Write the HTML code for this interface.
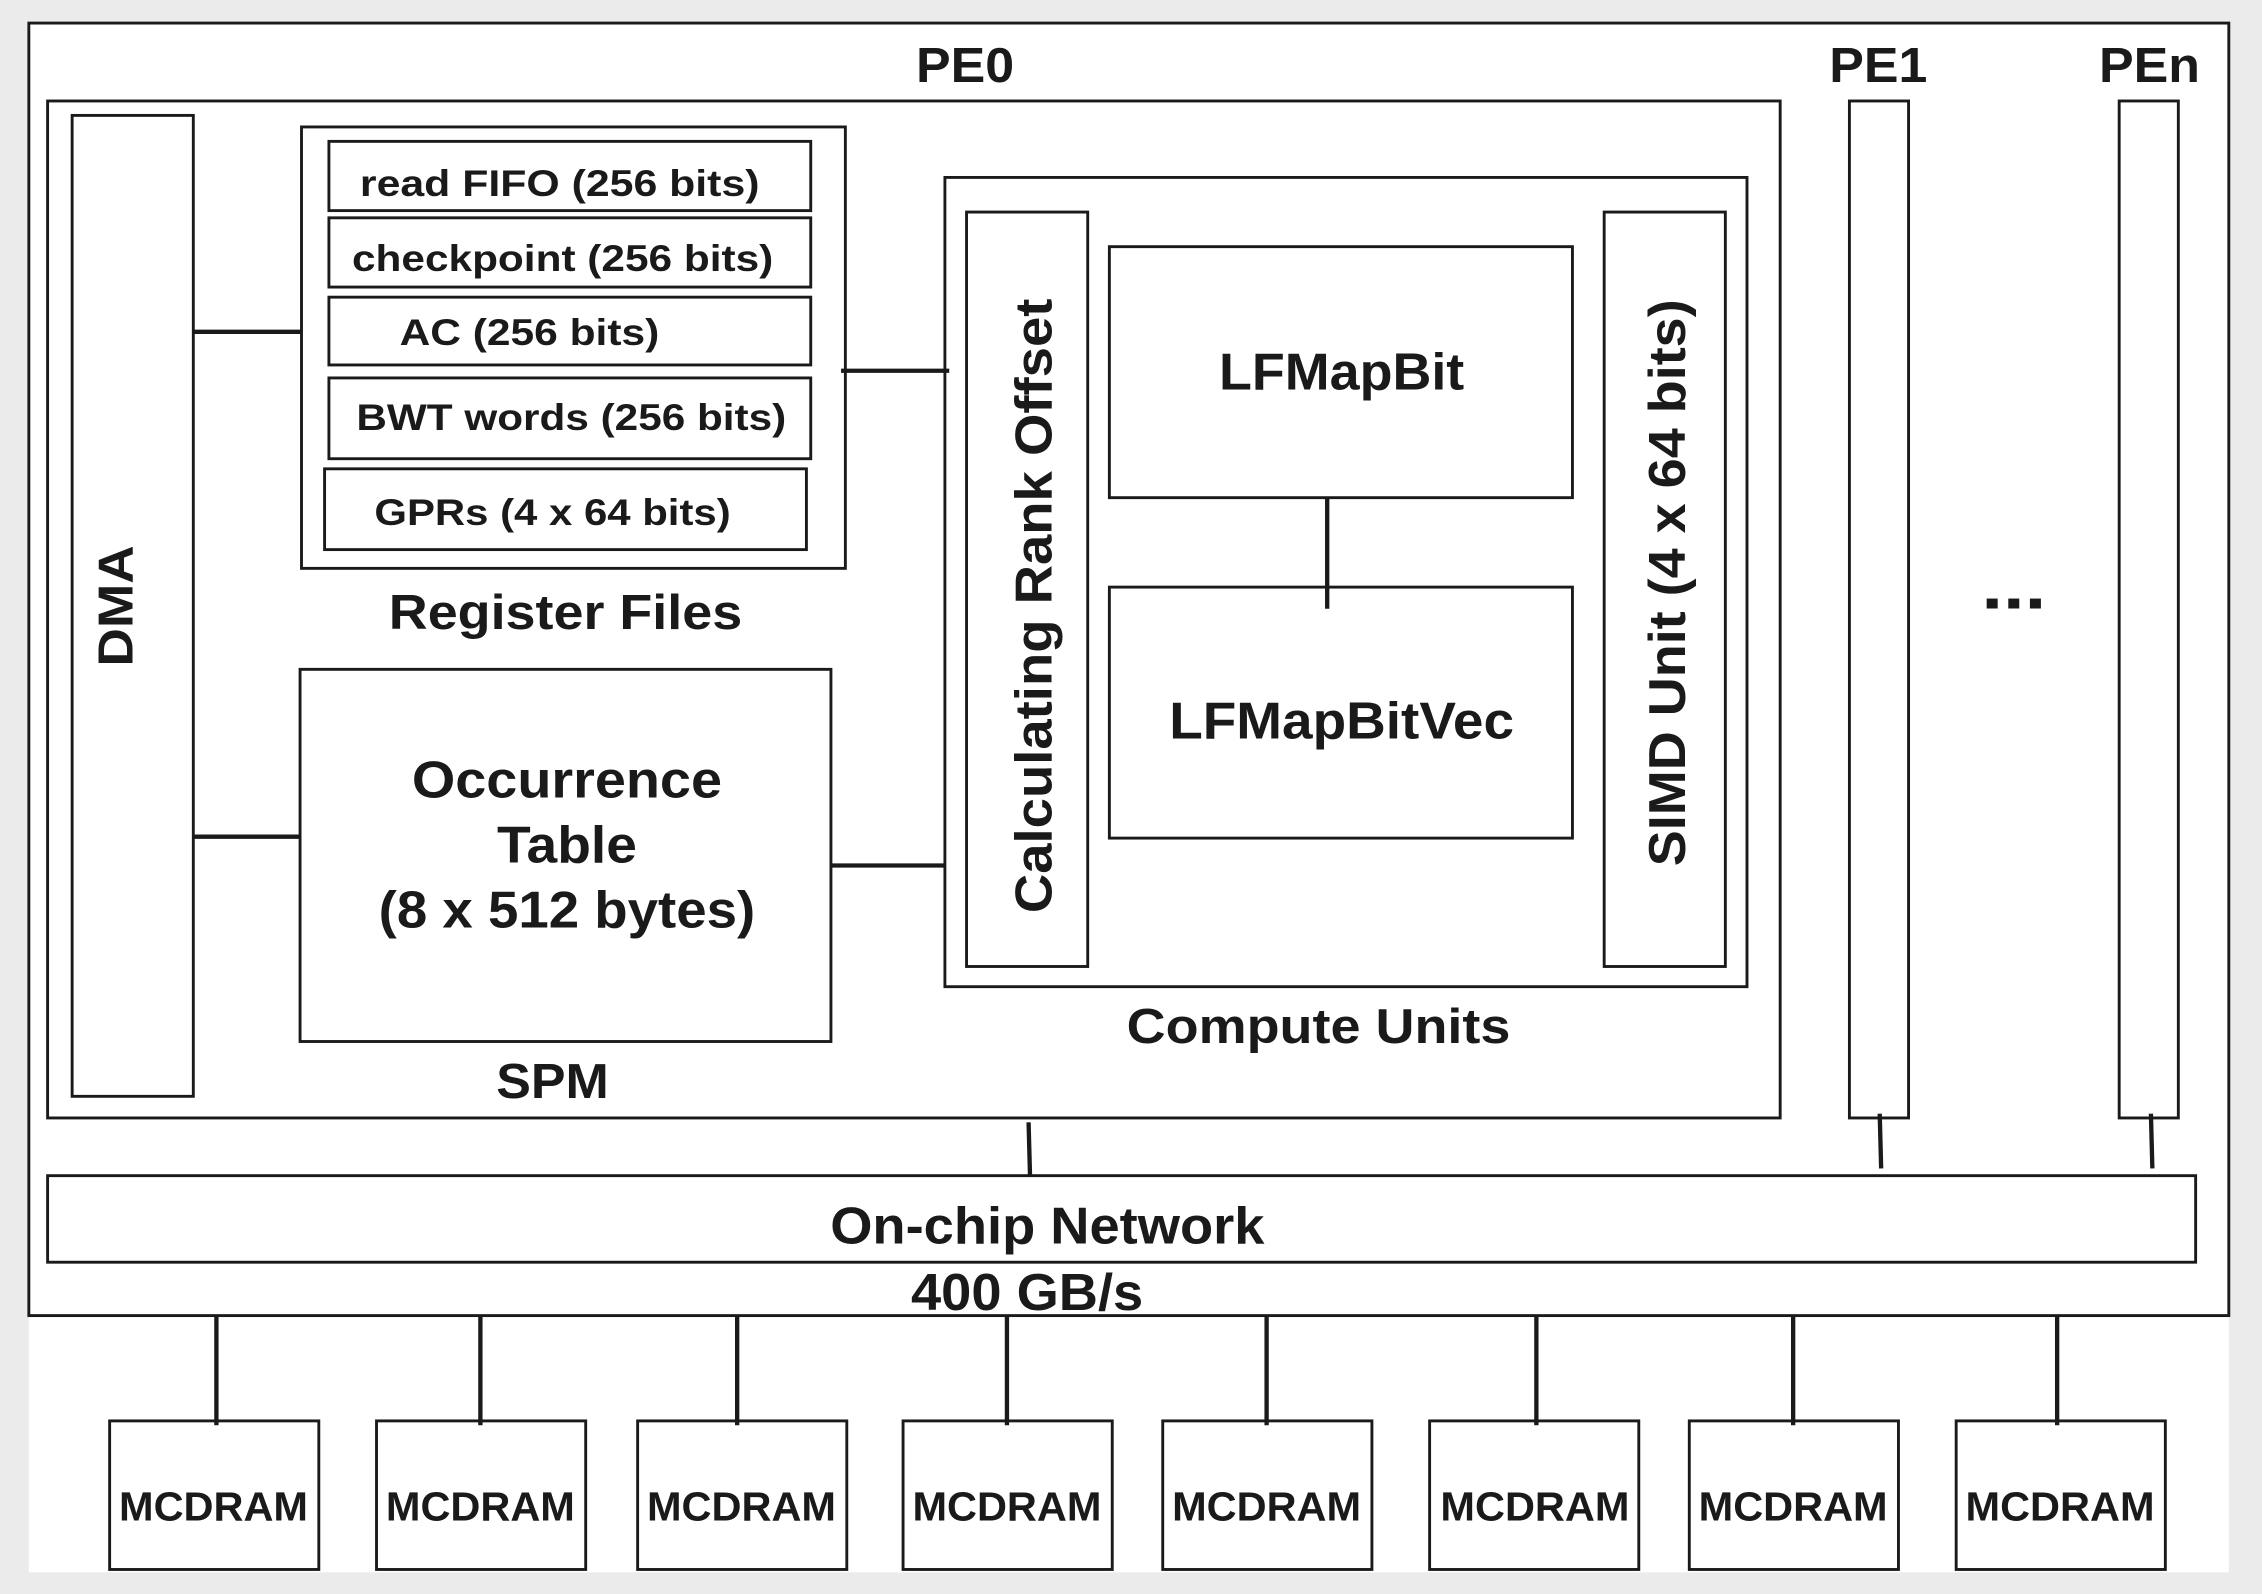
<!DOCTYPE html>
<html><head><style>html,body{margin:0;padding:0;background:#ebebeb}svg{display:block}</style></head>
<body>
<svg width="2262" height="1594" viewBox="0 0 1568 1105" preserveAspectRatio="none" xmlns="http://www.w3.org/2000/svg" font-family="'Liberation Sans', Arial, sans-serif" font-weight="bold" fill="#1a1a1a">
<rect x="0" y="0" width="1568" height="1105" fill="#ebebeb"/>
<rect x="20" y="16" width="1525" height="1074" fill="#fff"/>
<g fill="none" stroke="#1a1a1a" stroke-width="2">
<rect x="20" y="16" width="1525" height="896"/>
<rect x="33" y="70" width="1201" height="705"/>
<rect x="50" y="80" width="84" height="680"/>
<rect x="209" y="88" width="377" height="306"/>
<rect x="228" y="98" width="334" height="48"/>
<rect x="228" y="151" width="334" height="48"/>
<rect x="228" y="206" width="334" height="47"/>
<rect x="228" y="262" width="334" height="56"/>
<rect x="225" y="325" width="334" height="56"/>
<rect x="208" y="464" width="368" height="258"/>
<rect x="655" y="123" width="556" height="561"/>
<rect x="670" y="147" width="84" height="523"/>
<rect x="769" y="171" width="321" height="174"/>
<rect x="769" y="407" width="321" height="174"/>
<rect x="1112" y="147" width="84" height="523"/>
<rect x="1282" y="70" width="41" height="705"/>
<rect x="1469" y="70" width="41" height="705"/>
<rect x="33" y="815" width="1489" height="60"/>
<rect x="76" y="985" width="145" height="103"/>
<rect x="261" y="985" width="145" height="103"/>
<rect x="442" y="985" width="145" height="103"/>
<rect x="626" y="985" width="145" height="103"/>
<rect x="806" y="985" width="145" height="103"/>
<rect x="991" y="985" width="145" height="103"/>
<rect x="1171" y="985" width="145" height="103"/>
<rect x="1356" y="985" width="145" height="103"/>
</g>
<g stroke="#1a1a1a" stroke-width="3">
<line x1="134" y1="230" x2="209" y2="230"/>
<line x1="583" y1="257" x2="658" y2="257"/>
<line x1="134" y1="580" x2="208" y2="580"/>
<line x1="576" y1="600" x2="655" y2="600"/>
<line x1="920" y1="345" x2="920" y2="422"/>
<line x1="713" y1="778" x2="714" y2="815"/>
<line x1="1303" y1="772" x2="1304" y2="810"/>
<line x1="1491" y1="772" x2="1492" y2="810"/>
<line x1="150" y1="912" x2="150" y2="988"/>
<line x1="333" y1="912" x2="333" y2="988"/>
<line x1="511" y1="912" x2="511" y2="988"/>
<line x1="698" y1="912" x2="698" y2="988"/>
<line x1="878" y1="912" x2="878" y2="988"/>
<line x1="1065" y1="912" x2="1065" y2="988"/>
<line x1="1243" y1="912" x2="1243" y2="988"/>
<line x1="1426" y1="912" x2="1426" y2="988"/>
</g>
<g text-anchor="middle">
<text x="669" y="57" font-size="34" textLength="68" lengthAdjust="spacingAndGlyphs">PE0</text>
<text x="1302" y="57" font-size="34" textLength="68" lengthAdjust="spacingAndGlyphs">PE1</text>
<text x="1490" y="57" font-size="34" textLength="70" lengthAdjust="spacingAndGlyphs">PEn</text>
<text x="388" y="136" font-size="26" textLength="277" lengthAdjust="spacingAndGlyphs">read FIFO (256 bits)</text>
<text x="390" y="188" font-size="26" textLength="292" lengthAdjust="spacingAndGlyphs">checkpoint (256 bits)</text>
<text x="367" y="239" font-size="26" textLength="180" lengthAdjust="spacingAndGlyphs">AC (256 bits)</text>
<text x="396" y="298" font-size="26" textLength="298" lengthAdjust="spacingAndGlyphs">BWT words (256 bits)</text>
<text x="383" y="364" font-size="26" textLength="247" lengthAdjust="spacingAndGlyphs">GPRs (4 x 64 bits)</text>
<text x="392" y="436" font-size="34" textLength="245" lengthAdjust="spacingAndGlyphs">Register Files</text>
<text x="393" y="553" font-size="36" textLength="215" lengthAdjust="spacingAndGlyphs">Occurrence</text>
<text x="393" y="598" font-size="36" textLength="97" lengthAdjust="spacingAndGlyphs">Table</text>
<text x="393" y="643" font-size="36" textLength="261" lengthAdjust="spacingAndGlyphs">(8 x 512 bytes)</text>
<text x="383" y="761" font-size="34" textLength="78" lengthAdjust="spacingAndGlyphs">SPM</text>
<text x="914" y="723" font-size="34" textLength="266" lengthAdjust="spacingAndGlyphs">Compute Units</text>
<text x="930" y="270" font-size="36" textLength="170" lengthAdjust="spacingAndGlyphs">LFMapBit</text>
<text x="930" y="512" font-size="36" textLength="239" lengthAdjust="spacingAndGlyphs">LFMapBitVec</text>
<text x="726" y="862" font-size="36" textLength="301" lengthAdjust="spacingAndGlyphs">On-chip Network</text>
<text x="712" y="908" font-size="36" textLength="161" lengthAdjust="spacingAndGlyphs">400 GB/s</text>
<text x="1396" y="422" font-size="46" textLength="45" lengthAdjust="spacingAndGlyphs">...</text>
<text transform="translate(92,420) rotate(-90)" font-size="34" textLength="84" lengthAdjust="spacingAndGlyphs">DMA</text>
<text transform="translate(729,420) rotate(-90)" font-size="36" textLength="426" lengthAdjust="spacingAndGlyphs">Calculating Rank Offset</text>
<text transform="translate(1168,404) rotate(-90)" font-size="36" textLength="393" lengthAdjust="spacingAndGlyphs">SIMD Unit (4 x 64 bits)</text>
<g font-size="28">
<text x="148" y="1054" textLength="131" lengthAdjust="spacingAndGlyphs">MCDRAM</text>
<text x="333" y="1054" textLength="131" lengthAdjust="spacingAndGlyphs">MCDRAM</text>
<text x="514" y="1054" textLength="131" lengthAdjust="spacingAndGlyphs">MCDRAM</text>
<text x="698" y="1054" textLength="131" lengthAdjust="spacingAndGlyphs">MCDRAM</text>
<text x="878" y="1054" textLength="131" lengthAdjust="spacingAndGlyphs">MCDRAM</text>
<text x="1064" y="1054" textLength="131" lengthAdjust="spacingAndGlyphs">MCDRAM</text>
<text x="1243" y="1054" textLength="131" lengthAdjust="spacingAndGlyphs">MCDRAM</text>
<text x="1428" y="1054" textLength="131" lengthAdjust="spacingAndGlyphs">MCDRAM</text>
</g>
</g>
</svg>
</body></html>
